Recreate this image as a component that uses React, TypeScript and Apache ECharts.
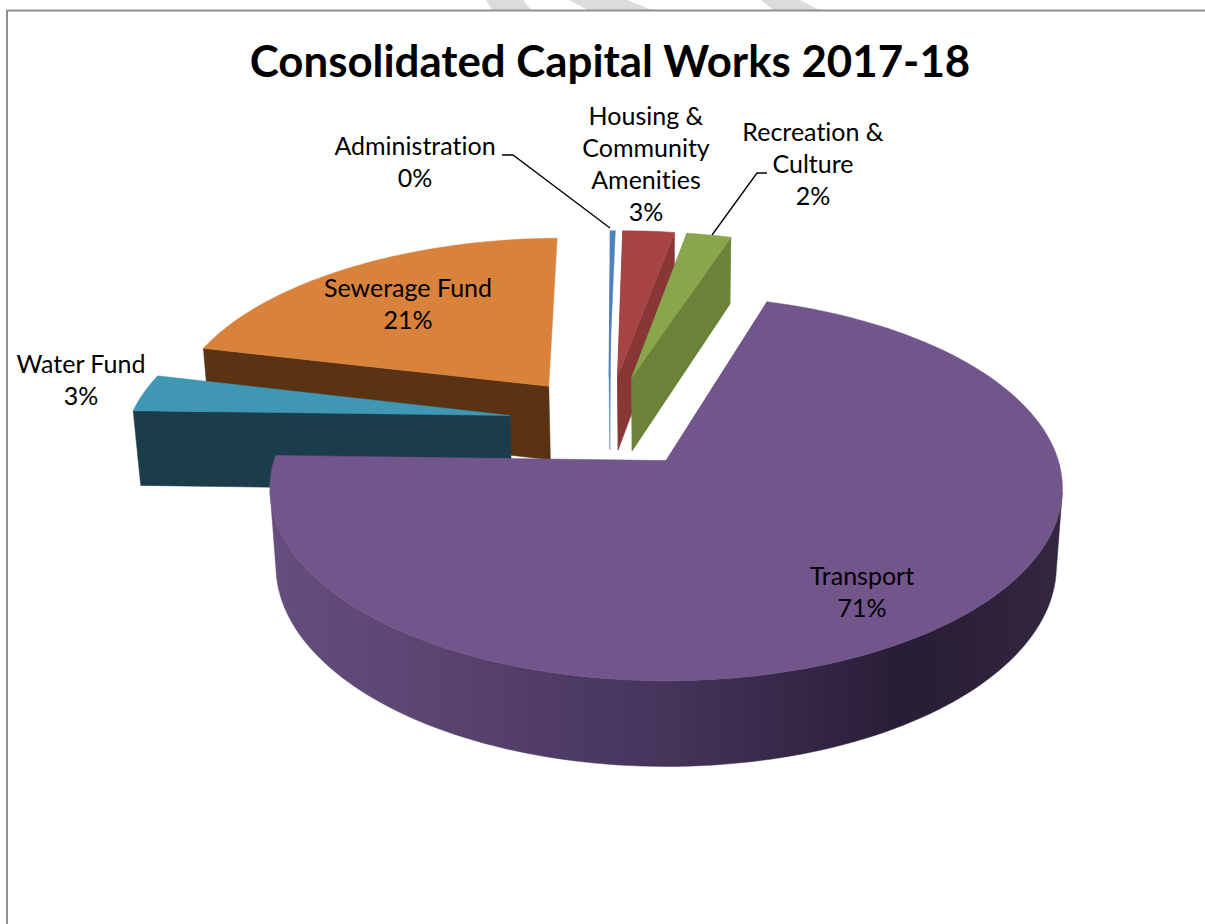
import React, { useEffect, useRef } from "react";
import * as echarts from "echarts";

// Share of capital works per program, clockwise from the top of the pie (percent).
const programs = [
  "Administration",
  "Housing & Community Amenities",
  "Recreation & Culture",
  "Transport",
  "Water Fund",
  "Sewerage Fund",
];
const shares = [0.25, 2.55, 2.2, 70.7, 3.3, 21.0];
const topColors = ["#4f81bd", "#a84544", "#8aa64c", "#72558b", "#3f97b4", "#d9823b"];
const cutColors = ["#4f81bd", "#883636", "#6b8239", "#72558b", "#1b3d4b", "#5a3315"];
// Back-to-front order in which the slices are painted.
const paintOrder = [0, 1, 2, 5, 4, 3];

const chartTitle = "Consolidated Capital Works 2017-18";
const firstSliceAngle = -0.96;

// Perspective set-up of the tilted disc, in px and unit-radius space.
const view = { cx: 665, cy: 460, rx: 392, ry: 188.6, depth: 78, tilt: 0.143, taper: 0.015 };
const pieCentre = { x: -0.15, y: 0.21 };
const explode = 0.262;

const rad = (deg: number) => (deg * Math.PI) / 180;

function project(X: number, Y: number, z: number): number[] {
  const w = 1 + view.tilt * Y + view.taper * z;
  return [view.cx + (view.rx * X) / w, view.cy - (view.ry * Y) / w + (view.depth * z) / w];
}

const sliceAngles = (() => {
  let a = firstSliceAngle;
  return shares.map((s) => {
    const start = a;
    a += (s * 360) / 100;
    return [start, a];
  });
})();

const percentLabel = (i: number) => `${Math.round(shares[i])}%`;

function renderSlice(_params: any, api: any) {
  const i = api.value(0) as number;
  const share = api.value(1) as number;
  const start = sliceAngles[i][0];
  const end = start + (share * 360) / 100;
  const mid = rad((start + end) / 2);
  const ax = pieCentre.x + explode * Math.sin(mid);
  const ay = pieCentre.y + explode * Math.cos(mid);
  const rim = (deg: number): number[] => [ax + Math.sin(rad(deg)), ay + Math.cos(rad(deg))];

  const steps = Math.max(2, Math.ceil((end - start) / 1.5));
  const angles: number[] = [];
  for (let s = 0; s <= steps; s++) angles.push(start + ((end - start) * s) / steps);

  const face = (points: number[][], fill: any) => ({
    type: "polygon",
    shape: { points },
    style: { fill, stroke: fill, lineWidth: 0.5 },
  });

  const cutFace = (deg: number) => {
    const [x, y] = rim(deg);
    return face(
      [project(ax, ay, 0), project(x, y, 0), project(x, y, 1), project(ax, ay, 1)],
      cutColors[i],
    );
  };

  // A closing cut only shows when it lies on the right half of the disc.
  const children: any[] = [cutFace(start)];
  if (Math.sin(rad(end)) > 0) children.push(cutFace(end));

  // The curved outer wall, only where it turns towards the viewer.
  const camY = -1 / view.tilt;
  const visible = angles.filter((deg) => {
    const [x, y] = rim(deg);
    const nx = Math.sin(rad(deg));
    const ny = Math.cos(rad(deg));
    return nx * (0 - x) + ny * (camY - y) > 0;
  });
  if (visible.length > 1) {
    const upper = visible.map((deg) => project(rim(deg)[0], rim(deg)[1], 0));
    const lower = visible.map((deg) => project(rim(deg)[0], rim(deg)[1], 1)).reverse();
    const fill =
      i === 3
        ? {
            type: "linear",
            global: true,
            x: 270,
            y: 0,
            x2: 1060,
            y2: 0,
            colorStops: [
              { offset: 0, color: "#664d80" },
              { offset: 0.2, color: "#5a4571" },
              { offset: 0.5, color: "#46345b" },
              { offset: 0.8, color: "#281d36" },
              { offset: 1, color: "#33263f" },
            ],
          }
        : cutColors[i];
    children.push(face(upper.concat(lower), fill));
  }

  const top: number[][] = [project(ax, ay, 0)];
  angles.forEach((deg) => top.push(project(rim(deg)[0], rim(deg)[1], 0)));
  children.push(face(top, topColors[i]));

  return { type: "group", children };
}

const labelFont = { fontFamily: "Lato", fontSize: 25, fill: "#000" };

function label(lines: string[], x: number, y: number) {
  return {
    type: "text",
    x,
    y,
    style: {
      ...labelFont,
      text: lines.join("\n"),
      align: "center",
      verticalAlign: "top",
      lineHeight: 32,
    },
    z: 20,
  };
}

const bandFill = "#dcdcdc";

export default function App() {
  const ref = useRef<HTMLDivElement>(null);

  useEffect(() => {
    if (!ref.current) return;
    const chart = echarts.init(ref.current, undefined, { renderer: "svg" });
    chart.setOption({
      animation: false,
      backgroundColor: "#ffffff",
      title: {
        text: chartTitle,
        left: 605,
        top: 33,
        textAlign: "center",
        textStyle: { fontFamily: "Lato", fontWeight: "bold", fontSize: 43.8, color: "#000" },
      },
      graphic: [
        { type: "polygon", shape: { points: [[486, 0], [523, 0], [531, 10], [492, 10]] }, style: { fill: bandFill } },
        { type: "polygon", shape: { points: [[569, 0], [627, 0], [652, 10], [588, 10]] }, style: { fill: bandFill } },
        { type: "polygon", shape: { points: [[761, 0], [800, 0], [819, 10], [773, 10]] }, style: { fill: bandFill } },
        { type: "line", shape: { x1: 7, y1: 10.5, x2: 1205, y2: 10.5 }, style: { stroke: "#8f8f8f", lineWidth: 2 } },
        { type: "line", shape: { x1: 7, y1: 10, x2: 7, y2: 924 }, style: { stroke: "#8f8f8f", lineWidth: 2 } },
        label([programs[0], percentLabel(0)], 415, 129),
        label(["Housing &", "Community", "Amenities", percentLabel(1)], 646, 99),
        label(["Recreation &", "Culture", percentLabel(2)], 813, 115),
        label([programs[3], percentLabel(3)], 862, 559),
        label([programs[4], percentLabel(4)], 81, 347),
        label([programs[5], percentLabel(5)], 408, 271),
        {
          type: "polyline",
          shape: { points: [[502, 155], [513, 155], [610, 228]] },
          style: { stroke: "#000", lineWidth: 1.3, fill: "none" },
          z: 20,
        },
        {
          type: "polyline",
          shape: { points: [[767, 173], [757, 173], [712, 235]] },
          style: { stroke: "#000", lineWidth: 1.3, fill: "none" },
          z: 20,
        },
      ],
      series: [
        {
          type: "custom",
          coordinateSystem: "none",
          renderItem: renderSlice,
          data: paintOrder.map((i) => [i, shares[i]]),
          silent: true,
        },
      ],
    });
    return () => chart.dispose();
  }, []);

  return (
    <div
      ref={ref}
      style={{ position: "fixed", left: 0, top: 0, width: 1205, height: 924, fontVariantLigatures: "none" }}
    />
  );
}
